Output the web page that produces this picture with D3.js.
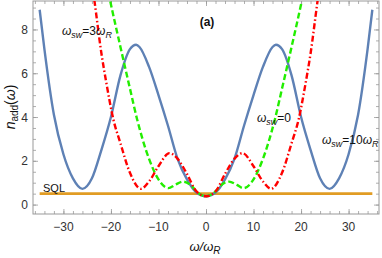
<!DOCTYPE html>
<html>
<head>
<meta charset="utf-8">
<script src="https://cdn.jsdelivr.net/npm/d3@7"></script>
<style>
  body { margin: 0; background: #fff; }
  text { font-family: "Liberation Sans", Arial, sans-serif; }
</style>
</head>
<body>
<div id="chart"></div>
<script>
// omega / omega_R sample positions and n_add values
const blueX = [-35, -34, -32, -30, -28, -26, -24, -22, -20, -18, -16, -14.7, -14, -12, -10, -8, -6, -4, -2, 0,
  2, 4, 6, 8, 10, 12, 14, 14.7, 16, 18, 20, 22, 24, 26, 28, 30, 32, 34, 35];
const blueN = [8.9, 7.1, 4.1, 2.3, 1.2, 0.72, 1.2, 2.5, 4.0, 5.9, 7.1, 7.3, 7.2, 6.3, 5.0, 3.6, 2.1, 1.15, 0.55, 0.38,
  0.55, 1.15, 2.1, 3.6, 5.0, 6.3, 7.2, 7.3, 7.1, 5.9, 4.0, 2.5, 1.2, 0.72, 1.2, 2.3, 4.1, 7.1, 8.9];

const redX = [-25, -23.5, -22, -21, -19.5, -18, -16, -13.7, -12, -10, -7.7, -6, -4, -2, 0,
  2, 4, 6, 7.7, 10, 12, 13.7, 16, 18, 19.5, 21, 22, 23.5, 25];
const redN = [11.6, 9.35, 6.9, 5.6, 3.9, 2.8, 1.45, 0.72, 1.05, 1.75, 2.35, 2.1, 1.4, 0.6, 0.38,
  0.6, 1.4, 2.1, 2.35, 1.75, 1.05, 0.72, 1.45, 2.8, 3.9, 5.6, 6.9, 9.35, 11.6];

const greenX = [-22, -20.2, -18, -16, -14.5, -12, -10, -7.9, -6.5, -4.85, -3, -2, 0,
  2, 3, 4.85, 6.5, 7.9, 10, 12, 14.5, 16, 18, 20.2, 22];
const greenN = [11.3, 9.35, 7.2, 5.3, 3.9, 2.1, 1.15, 0.75, 0.9, 1.05, 0.85, 0.6, 0.38,
  0.6, 0.85, 1.05, 0.9, 0.75, 1.15, 2.1, 3.9, 5.3, 7.2, 9.35, 11.3];

const sqlX = [-35, 35];
const sqlN = [0.5, 0.5];

const xTicks = [-30, -20, -10, 0, 10, 20, 30];
const yTicks = [0, 2, 4, 6, 8];

const width = 382, height = 258;
const pLeft = 33, pRight = 379, pTop = 1, pBottom = 214;

const svg = d3.select('#chart').append('svg')
  .attr('width', width)
  .attr('height', height);

const x = d3.scaleLinear().domain([-36.4, 36.4]).range([pLeft, pRight]);
const y = d3.scaleLinear().domain([-0.43, 9.3]).range([pBottom, pTop]);

svg.append('clipPath').attr('id', 'clip')
  .append('rect')
  .attr('x', pLeft).attr('y', pTop)
  .attr('width', pRight - pLeft).attr('height', pBottom - pTop);

const frameColor = '#999';

// frame ticks, inward on all four sides
const axisG = svg.append('g');
const minorX = d3.range(-36, 37, 2);
const minorY = d3.range(0, 9.01, 0.5);
axisG.append('g')
  .attr('transform', `translate(0,${pBottom})`)
  .call(d3.axisTop(x).tickValues(minorX).tickSize(3).tickFormat(''));
axisG.append('g')
  .attr('transform', `translate(0,${pBottom})`)
  .call(d3.axisTop(x).tickValues(xTicks).tickSize(5).tickFormat(''));
axisG.append('g')
  .attr('transform', `translate(0,${pTop})`)
  .call(d3.axisBottom(x).tickValues(minorX).tickSize(3).tickFormat(''));
axisG.append('g')
  .attr('transform', `translate(0,${pTop})`)
  .call(d3.axisBottom(x).tickValues(xTicks).tickSize(5).tickFormat(''));
axisG.append('g')
  .attr('transform', `translate(${pLeft},0)`)
  .call(d3.axisRight(y).tickValues(minorY).tickSize(3).tickFormat(''));
axisG.append('g')
  .attr('transform', `translate(${pLeft},0)`)
  .call(d3.axisRight(y).tickValues(yTicks).tickSize(5).tickFormat(''));
axisG.append('g')
  .attr('transform', `translate(${pRight},0)`)
  .call(d3.axisLeft(y).tickValues(minorY).tickSize(3).tickFormat(''));
axisG.append('g')
  .attr('transform', `translate(${pRight},0)`)
  .call(d3.axisLeft(y).tickValues(yTicks).tickSize(5).tickFormat(''));
axisG.selectAll('.domain').remove();
axisG.selectAll('line').attr('stroke', frameColor).attr('stroke-width', 0.8);

svg.append('rect')
  .attr('x', pLeft).attr('y', pTop)
  .attr('width', pRight - pLeft).attr('height', pBottom - pTop)
  .attr('fill', 'none').attr('stroke', frameColor).attr('stroke-width', 1);

// tick labels
svg.append('g').selectAll('text').data(xTicks).join('text')
  .attr('x', d => x(d))
  .attr('y', pBottom + 17)
  .attr('text-anchor', 'middle')
  .attr('font-size', 12)
  .attr('fill', '#333')
  .text(d => d < 0 ? '\u2212' + Math.abs(d) : d);
svg.append('g').selectAll('text').data(yTicks).join('text')
  .attr('x', pLeft - 5)
  .attr('y', d => y(d) + 4.5)
  .attr('text-anchor', 'end')
  .attr('font-size', 12)
  .attr('fill', '#333')
  .text(d => d);

// curves
const line = d3.line()
  .x(d => x(d[0]))
  .y(d => y(d[1]))
  .curve(d3.curveMonotoneX);
const plot = svg.append('g').attr('clip-path', 'url(#clip)');

plot.append('path')
  .datum(d3.zip(sqlX, sqlN))
  .attr('fill', 'none')
  .attr('stroke', '#E19C24')
  .attr('stroke-width', 2.6)
  .attr('d', line);
plot.append('path')
  .datum(d3.zip(blueX, blueN))
  .attr('fill', 'none')
  .attr('stroke', '#5E81B5')
  .attr('stroke-width', 2.4)
  .attr('d', line);
plot.append('path')
  .datum(d3.zip(greenX, greenN))
  .attr('fill', 'none')
  .attr('stroke', '#22EE00')
  .attr('stroke-width', 2.4)
  .attr('stroke-dasharray', '6,3')
  .attr('d', line);
plot.append('path')
  .datum(d3.zip(redX, redN))
  .attr('fill', 'none')
  .attr('stroke', '#FF0000')
  .attr('stroke-width', 2.4)
  .attr('stroke-dasharray', '6,2.5,1.5,2.5')
  .attr('d', line);

// labels
function omegaLabel(tx, ty, parts) {
  const t = svg.append('text').attr('x', tx).attr('y', ty).attr('font-size', 12).attr('fill', '#111');
  parts.forEach(p => {
    const s = t.append('tspan').text(p.t);
    if (p.i) s.attr('font-style', 'italic');
    if (p.sub) s.attr('font-size', 9).attr('dy', 3);
    if (p.up) s.attr('dy', -3);
  });
  return t;
}

omegaLabel(62, 35, [{ t: 'ω', i: true }, { t: 'sw', sub: true, i: true }, { t: '=3', up: true }, { t: 'ω', i: true }, { t: 'R', sub: true, i: true }]);
omegaLabel(257, 122, [{ t: 'ω', i: true }, { t: 'sw', sub: true, i: true }, { t: '=0', up: true }]);
omegaLabel(322, 144, [{ t: 'ω', i: true }, { t: 'sw', sub: true, i: true }, { t: '=10', up: true }, { t: 'ω', i: true }, { t: 'R', sub: true, i: true }]);

svg.append('text')
  .attr('x', 43).attr('y', 192)
  .attr('font-size', 11).attr('fill', '#111')
  .text('SQL');

svg.append('text')
  .attr('x', 207).attr('y', 26)
  .attr('text-anchor', 'middle')
  .attr('font-size', 12).attr('font-weight', 'bold').attr('fill', '#111')
  .text('(a)');

const xl = svg.append('text')
  .attr('x', 205).attr('y', 251)
  .attr('text-anchor', 'middle')
  .attr('font-size', 13).attr('fill', '#111');
xl.append('tspan').attr('font-style', 'italic').text('ω/ω');
xl.append('tspan').attr('font-style', 'italic').attr('font-size', 10).attr('dy', 3).text('R');

const yl = svg.append('text')
  .attr('transform', 'translate(15,107) rotate(-90)')
  .attr('text-anchor', 'middle')
  .attr('font-size', 14).attr('fill', '#111');
yl.append('tspan').attr('font-style', 'italic').text('n');
yl.append('tspan').attr('font-size', 10).attr('dy', 3).text('add');
yl.append('tspan').attr('dy', -3).text('(');
yl.append('tspan').attr('font-style', 'italic').text('ω');
yl.append('tspan').text(')');
</script>
</body>
</html>
